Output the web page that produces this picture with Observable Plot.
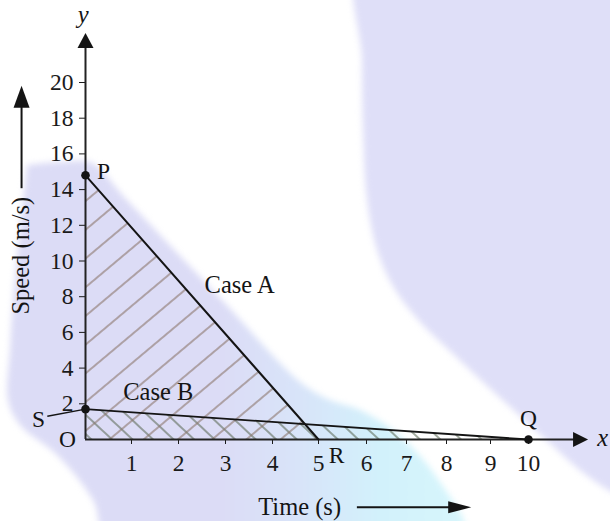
<!DOCTYPE html>
<html>
<head>
<meta charset="utf-8">
<script src="https://cdn.jsdelivr.net/npm/d3@7"></script>
<script src="https://cdn.jsdelivr.net/npm/@observablehq/plot@0.6"></script>
<style>
  body { margin: 0; background: #fff; }
  #wrap { position: relative; width: 610px; height: 521px; overflow: hidden; background: #fff; }
  .blur { position: absolute; left: 0; top: 0; width: 610px; height: 521px; filter: blur(3px); }
  .shape { position: absolute; left: -20px; top: -20px; width: 650px; height: 561px; }
  #chart { position: absolute; left: 0; top: 0; }
</style>
</head>
<body>
<svg width="0" height="0" style="position:absolute">
  <defs>
    <pattern id="hatchA" patternUnits="userSpaceOnUse" width="22" height="22" patternTransform="rotate(50)">
      <line x1="11" y1="-2" x2="11" y2="24" stroke="#8d786f" stroke-width="1.2"/>
    </pattern>
    <pattern id="hatchB" patternUnits="userSpaceOnUse" width="14" height="14" patternTransform="rotate(-47)">
      <line x1="7" y1="-2" x2="7" y2="16" stroke="#56654f" stroke-width="1.1"/>
    </pattern>
  </defs>
</svg>
<div id="wrap">
  <div class="blur"><div class="shape" id="circ"></div></div>
  <div class="blur"><div class="shape" id="blob"></div></div>
  <div id="chart"></div>
</div>
<script>
// ---------- data ----------
const xTicks = [1, 2, 3, 4, 5, 6, 7, 8, 9, 10];
const yTicks = [2, 4, 6, 8, 10, 12, 14, 16, 18, 20];
const caseA = [{t: 0, v: 14.8}, {t: 5, v: 0}];   // P -> R
const caseB = [{t: 0, v: 1.7}, {t: 10, v: 0}];   // S -> Q
const pointNames = ["P", "S", "Q", "R"];

// ---------- decorative background (page pixels) ----------
const circPts = [[362,-40],[362,60],[363,130],[367,200],[377,250],[394,288],[420,322],[452,353],[485,384],[520,416],[556,449],[582,472],[610,491],[640,505],[660,520],[660,-40]];
const blobPts = [[27,165],[60,162],[92,163],[125,198],[222,300],[300,382],[330,400],[360,410],[395,432],[435,475],[465,541],[110,541],[93,500],[57,455],[20,425],[8,400],[10,350],[13,300],[20,230],[27,165]];
const smoothPath = pts => d3.line().curve(d3.curveCatmullRomClosed.alpha(0.5))(pts.map(([x, y]) => [x + 20, y + 20]));
const circ = document.getElementById("circ");
circ.style.background = "#dfdff8";
circ.style.clipPath = `path('${smoothPath(circPts)}')`;
const blob = document.getElementById("blob");
blob.style.background = "linear-gradient(90deg, #dcdcf6 0px, #dcdcf6 240px, #d8e4f9 320px, #d2f1fb 400px, #d7f6fc 490px)";
blob.style.clipPath = `path('${smoothPath(blobPts)}')`;

// ---------- arrowhead symbols ----------
function tri(dir, L, W) {
  return {
    draw(ctx) {
      if (dir === "up") {
        ctx.moveTo(0, -L / 2); ctx.lineTo(W / 2, L / 2); ctx.lineTo(-W / 2, L / 2);
      } else {
        ctx.moveTo(L / 2, 0); ctx.lineTo(-L / 2, W / 2); ctx.lineTo(-L / 2, -W / 2);
      }
      ctx.closePath();
    }
  };
}

const ink = "#141414";
const serif = "'Liberation Serif', 'Times New Roman', serif";
const fs = 23.5;   // ticks and single letters
const fw = 24.5;   // word labels

const chart = Plot.plot({
  width: 610,
  height: 521,
  marginLeft: 85,
  marginBottom: 82,
  marginTop: 0,
  marginRight: 0,
  style: {background: "transparent", fontFamily: serif, fontSize: fs + "px", color: "#1a1a1a", overflow: "visible"},
  x: {type: "linear", domain: [0,1,2,3,4,5,6,7,8,9,10], range: [85,131,178,225,272,318,366,406,446,490,528],
      ticks: xTicks, tickSize: 5, tickPadding: 10, label: null},
  y: {type: "linear", domain: [0, 20], range: [439, 82], ticks: yTicks, tickSize: 6, tickPadding: 6, label: null},
  marks: [
    // hatched regions
    Plot.areaY(caseB, {x: "t", y: "v", fill: "url(#hatchB)"}),
    Plot.areaY(caseA, {x: "t", y: "v", fill: "url(#hatchA)"}),
    // axes lines with arrowheads
    Plot.ruleY([0], {x1: 0, x2: 11.22, stroke: "#222", strokeWidth: 2}),
    Plot.ruleX([0], {y1: 0, y2: 22.0, stroke: "#222", strokeWidth: 2}),
    Plot.dot([{t: 11.37, v: 0}], {x: "t", y: "v", r: 1, symbol: tri("right", 15, 15), fill: ink, stroke: "none"}),
    Plot.dot([{t: 0, v: 22.35}], {x: "t", y: "v", r: 1, symbol: tri("up", 15, 16), fill: ink, stroke: "none"}),
    // case lines
    Plot.line(caseA, {x: "t", y: "v", stroke: ink, strokeWidth: 2}),
    Plot.line(caseB, {x: "t", y: "v", stroke: ink, strokeWidth: 1.8}),
    // S leader
    Plot.link([caseB[0]], {x1: -0.83, y1: 1.3, x2: "t", y2: "v", stroke: ink, strokeWidth: 1.4}),
    // points P, S, Q
    Plot.dot([caseA[0], caseB[0], caseB[1]], {x: "t", y: "v", r: 4.3, fill: ink}),
    // point labels
    Plot.text([caseA[0]], {x: "t", y: "v", text: () => pointNames[0], dx: 18, dy: -4, fontSize: fs, fill: ink}),
    Plot.text([caseB[0]], {x: "t", y: "v", text: () => pointNames[1], dx: -47, dy: 10, fontSize: fs, fill: ink}),
    Plot.text([caseB[1]], {x: "t", y: "v", text: () => pointNames[2], dx: 0, dy: -21, fontSize: fs, fill: ink}),
    Plot.text([caseA[1]], {x: "t", y: "v", text: () => pointNames[3], dx: 18, dy: 16, fontSize: fs, fill: ink}),
    Plot.text([{t: 0, v: 0}], {x: "t", y: "v", text: () => "O", dx: -18, dy: 0, fontSize: fs, fill: ink}),
    // case labels
    Plot.text([{t: 3.3, v: 8.63}], {x: "t", y: "v", text: () => "Case A", fontSize: fw, fill: ink}),
    Plot.text([{t: 1.57, v: 2.63}], {x: "t", y: "v", text: () => "Case B", fontSize: fw, fill: ink}),
    // axis letters
    Plot.text([{t: -0.05, v: 23.75}], {x: "t", y: "v", text: () => "y", fontStyle: "italic", fontSize: fw, fill: ink}),
    Plot.text([{t: 11.95, v: 0.1}], {x: "t", y: "v", text: () => "x", fontStyle: "italic", fontSize: fw, fill: ink}),
    // axis titles with arrows
    Plot.text([{t: -1.39, v: 10.3}], {x: "t", y: "v", text: () => "Speed (m/s)", rotate: -90, fontSize: fw, fill: ink}),
    Plot.ruleX([-1.39], {y1: 14.05, y2: 18.9, stroke: ink, strokeWidth: 2}),
    Plot.dot([{t: -1.39, v: 19.2}], {x: "t", y: "v", r: 1, symbol: tri("up", 22, 16), fill: ink, stroke: "none"}),
    Plot.text([{t: 4.59, v: -3.8}], {x: "t", y: "v", text: () => "Time (s)", fontSize: fw, fill: ink}),
    Plot.ruleY([-3.8], {x1: 5.81, x2: 8.1, stroke: ink, strokeWidth: 2}),
    Plot.dot([{t: 8.3, v: -3.8}], {x: "t", y: "v", r: 1, symbol: tri("right", 23, 12), fill: ink, stroke: "none"})
  ]
});
document.getElementById("chart").appendChild(chart);
</script>
</body>
</html>
